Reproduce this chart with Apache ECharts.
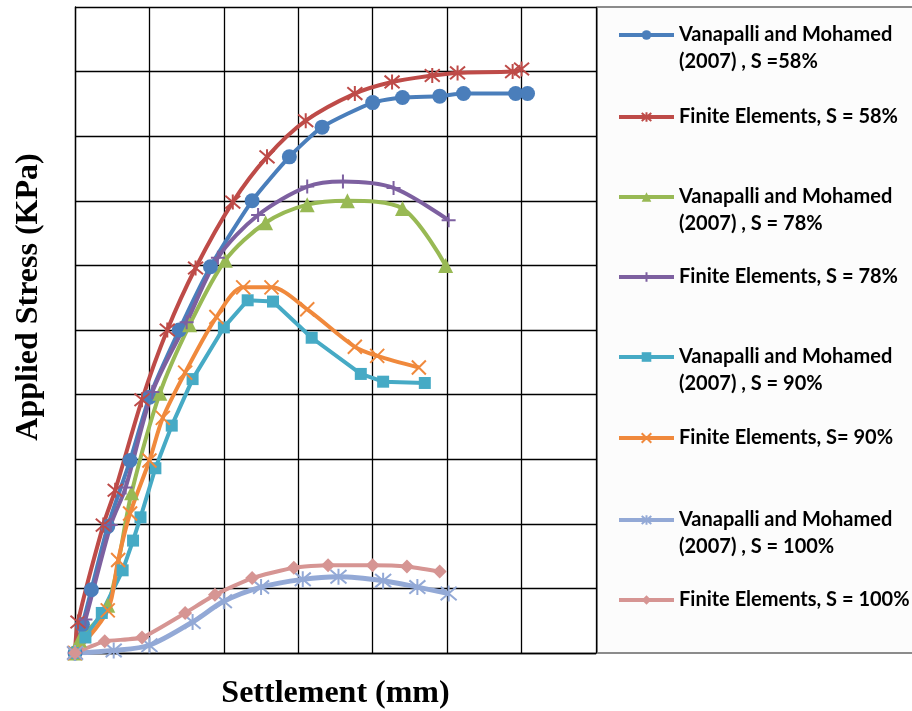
<!DOCTYPE html>
<html><head><meta charset="utf-8">
<script src="https://cdn.jsdelivr.net/npm/echarts@6/dist/echarts.min.js"></script>
<style>html,body{margin:0;padding:0;background:#fff}#c{width:912px;height:711px}</style>
</head><body><div id="c"></div>
<script>
// Settlement (mm) / Applied stress (kPa)
const seriesNames = [
  "Vanapalli and Mohamed (2007) , S =58%",
  "Finite Elements, S = 58%",
  "Vanapalli and Mohamed (2007) , S = 78%",
  "Finite Elements, S = 78%",
  "Vanapalli and Mohamed (2007) , S = 90%",
  "Finite Elements, S= 90%",
  "Vanapalli and Mohamed (2007) , S = 100%",
  "Finite Elements, S = 100%"
];
const v58X = [0, 0.5, 1.1, 2.2, 3.7, 5.0, 7.0, 9.1, 11.9, 14.4, 16.6, 20.0, 22.0, 24.5, 26.1, 29.6, 30.4];
const v58Y = [0, 22, 49, 98, 149, 198, 250, 299, 350, 384, 407, 426, 430, 431, 433, 433, 433];
const fe58X = [0, 0.2, 1.9, 2.7, 4.5, 6.2, 8.1, 10.6, 12.9, 15.5, 18.8, 21.3, 24.0, 25.7, 29.4, 30.0];
const fe58Y = [0, 24, 99, 126, 196, 250, 298, 349, 384, 412, 433, 442, 447, 449, 450, 452];
const v78X = [0, 0.3, 2.2, 3.8, 5.7, 7.7, 10.1, 12.8, 15.6, 18.3, 22.0, 24.9];
const v78Y = [0, 10, 37, 124, 201, 254, 304, 333, 347, 350, 344, 300];
const fe78X = [0, 0.7, 2.4, 3.4, 5.2, 7.5, 9.6, 12.3, 15.6, 18.0, 21.4, 25.1];
const fe78Y = [0, 26, 99, 128, 202, 256, 306, 339, 361, 365, 360, 335];
const v90X = [0, 0.7, 1.8, 3.2, 3.9, 4.4, 5.4, 6.5, 7.9, 10.0, 11.6, 13.3, 15.9, 19.2, 20.7, 23.5];
const v90Y = [0, 12, 31, 64, 87, 105, 143, 176, 212, 252, 273, 272, 244, 216, 210, 209];
const fe90X = [0, 2.2, 2.9, 3.7, 5.0, 5.9, 7.4, 9.5, 11.3, 13.2, 15.6, 18.8, 20.3, 23.1];
const fe90Y = [0, 33, 72, 108, 149, 182, 217, 260, 283, 283, 266, 237, 230, 221];
const v100X = [0, 2.6, 5.0, 7.9, 10.0, 12.5, 15.3, 17.7, 20.7, 23.0, 25.1];
const v100Y = [0, 2, 6, 24, 40, 51, 57, 59, 56, 51, 46];
const fe100X = [0, 2.0, 4.5, 7.4, 9.4, 11.9, 14.7, 17.0, 20.0, 22.3, 24.5];
const fe100Y = [0, 9, 12, 31, 45, 58, 66, 68, 68, 67, 63];

const xs = [v58X, fe58X, v78X, fe78X, v90X, fe90X, v100X, fe100X];
const ys = [v58Y, fe58Y, v78Y, fe78Y, v90Y, fe90Y, v100Y, fe100Y];
const colors = ['#4A7EBB', '#BE4B48', '#98B954', '#7D60A0', '#46AAC5', '#F0893C', '#93A9D6', '#D69593'];
const ASTER = 'path://M5,0L5,10M0.8,0.8L9.2,9.2M9.2,0.8L0.8,9.2';
const PLUS = 'path://M5,0L5,10M0,5L10,5';
const XMARK = 'path://M0,0L10,10M10,0L0,10';
const symbols = ['circle', ASTER, 'triangle', PLUS, 'rect', XMARK, ASTER, 'diamond'];
const symSizes = [15, 15, 15, 14, 12, 14, 16, 14];
const stroked = [false, true, false, true, false, true, true, false];
const smooths = [0.2, 0.3, 0.3, 0.3, false, 0.3, 0.3, 0.15];
const lineWidths = [4, 4, 4, 4, 4, 4, 5, 4];
const legendCenters = [35, 117, 197, 277, 357, 438, 520, 600];

const chart = echarts.init(document.getElementById('c'), null, {renderer: 'canvas'});

const series = seriesNames.map((n, i) => ({
  name: n,
  type: 'line',
  data: xs[i].map((x, k) => [x, ys[i][k]]),
  smooth: smooths[i],
  symbol: symbols[i],
  symbolSize: symSizes[i],
  showAllSymbol: true,
  lineStyle: {color: colors[i], width: lineWidths[i]},
  itemStyle: {color: colors[i], borderColor: colors[i], borderWidth: stroked[i] ? 2 : 0},
  emphasis: {disabled: true},
  z: 3
}));

const legends = seriesNames.map((n, i) => {
  const twoLine = n.indexOf('Vanapalli') === 0;
  return {
    data: [n],
    left: 617,
    top: legendCenters[i] - (twoLine ? 40.5 : 13.5),
    padding: 0,
    itemWidth: 55,
    itemHeight: 12,
    selectedMode: false,
    lineStyle: {width: 4},
    formatter: function (name) {
      if (name.indexOf('Vanapalli') === 0) {
        const p = name.indexOf('(');
        return ' \n' + name.slice(0, p).trim() + '\n' + name.slice(p);
      }
      return name;
    },
    textStyle: {fontFamily: 'Lato', fontWeight: 'bold', fontSize: 20, color: '#000', lineHeight: 27}
  };
});

chart.setOption({
  backgroundColor: '#ffffff',
  animation: false,
  graphic: [{
    type: 'rect',
    shape: {x: 597, y: 7, width: 320, height: 646},
    style: {fill: '#fcfcfc', stroke: '#8c8c8c', lineWidth: 2},
    z: -10
  }],
  grid: {left: 75, top: 7, width: 521, height: 646, containLabel: false, outerBoundsMode: 'none'},
  xAxis: {
    type: 'value', min: 0, max: 35, interval: 5,
    name: 'Settlement (mm)', nameLocation: 'middle', nameGap: 25,
    nameTextStyle: {fontFamily: 'Liberation Serif', fontWeight: 'bold', fontSize: 32, color: '#000'},
    axisLine: {show: true, lineStyle: {color: '#000', width: 1.3}},
    axisTick: {show: false}, axisLabel: {show: false},
    splitLine: {show: true, lineStyle: {color: '#000', width: 1.3}}
  },
  yAxis: {
    type: 'value', min: 0, max: 500, interval: 50,
    name: 'Applied Stress (KPa)', nameLocation: 'middle', nameGap: 30,
    nameTextStyle: {fontFamily: 'Liberation Serif', fontWeight: 'bold', fontSize: 32, color: '#000', padding: [0, 0, 0, 66]},
    axisLine: {show: true, lineStyle: {color: '#000', width: 1.3}},
    axisTick: {show: false}, axisLabel: {show: false},
    splitLine: {show: true, lineStyle: {color: '#000', width: 1.3}}
  },
  legend: legends,
  series: series
});
</script>
</body></html>
